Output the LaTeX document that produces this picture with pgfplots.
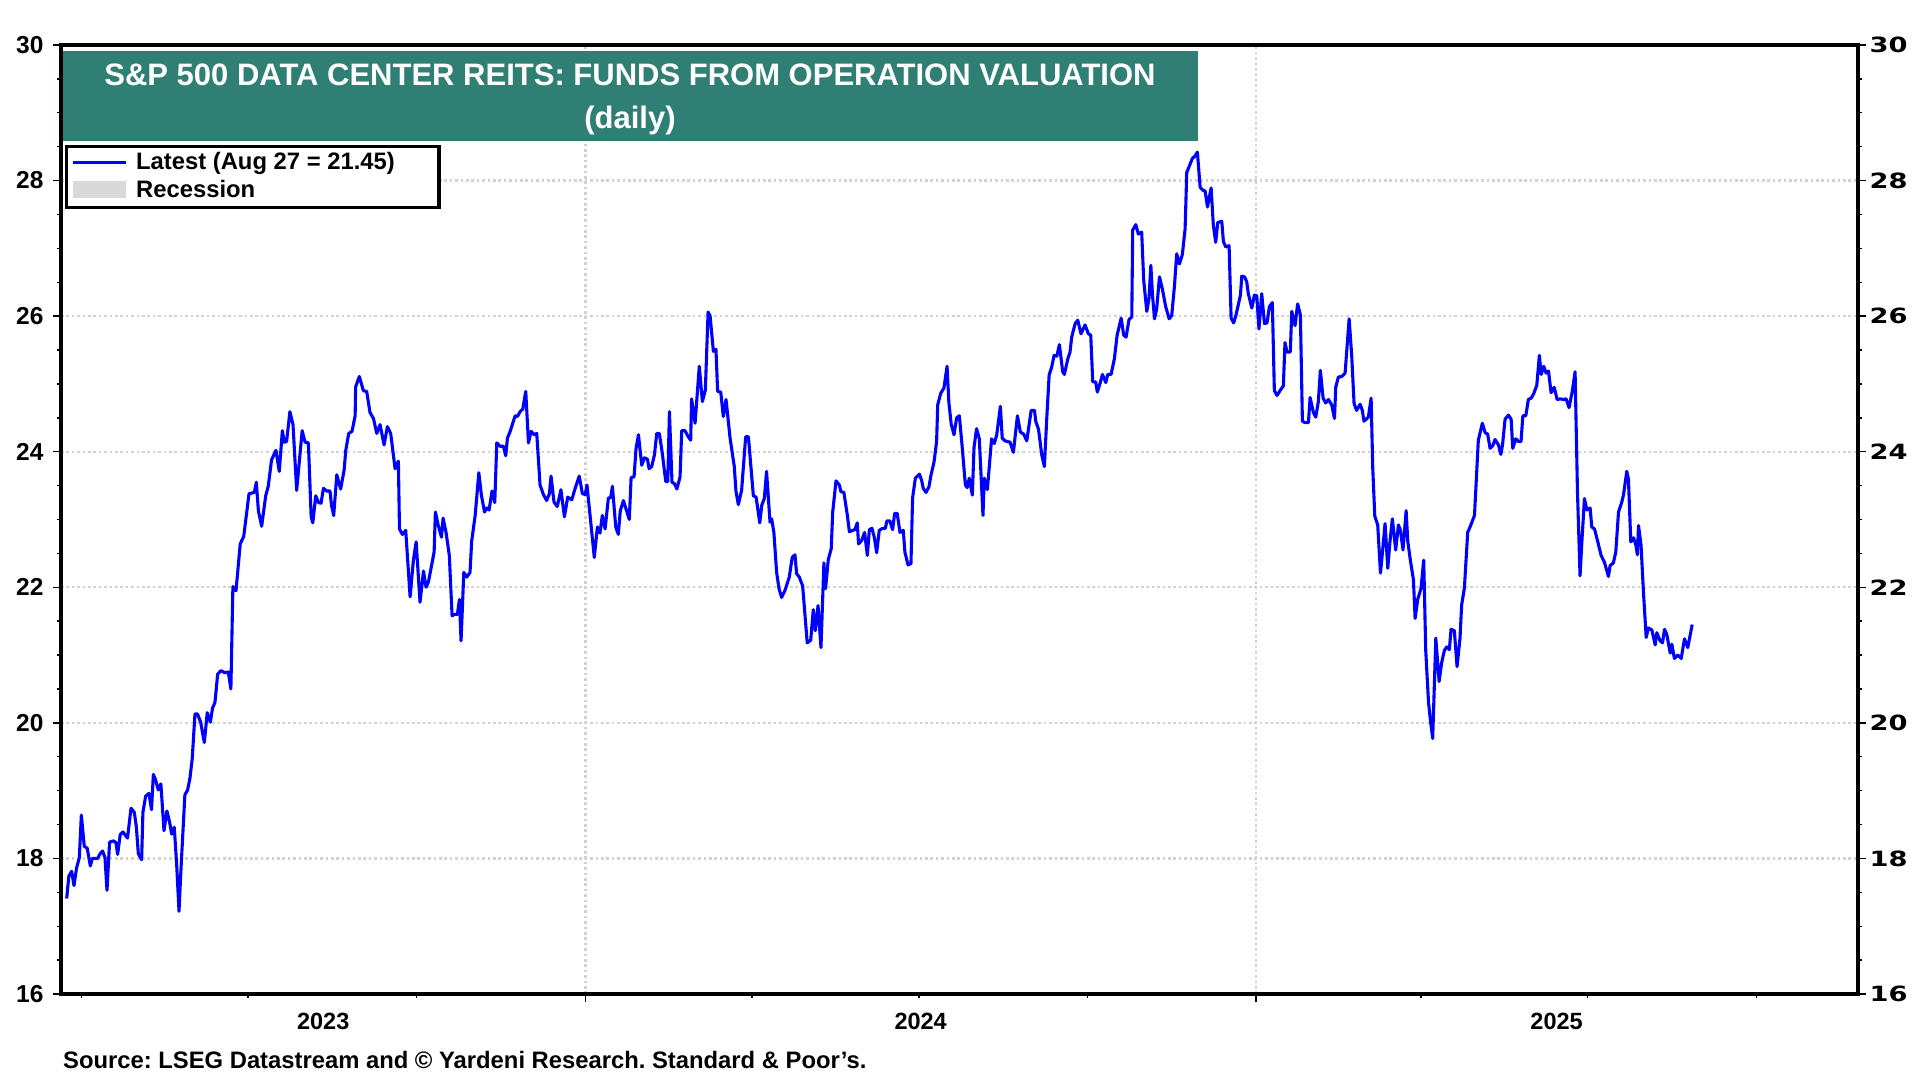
\documentclass[border=0pt]{standalone}
\usepackage{fontspec}
\setmainfont{Liberation Sans}
\newfontfamily\rfont{DejaVu Sans}[FakeStretch=1.3]
\usepackage{pgfplots}
\pgfplotsset{compat=1.18}
\definecolor{titleteal}{RGB}{47,127,116}
\definecolor{gridgray}{RGB}{210,210,210}
\definecolor{recgray}{RGB}{217,217,217}
\frenchspacing
\begin{document}
\begin{tikzpicture}
\useasboundingbox (0pt,0pt) rectangle (1920pt,1080pt);
\begin{axis}[
  at={(61pt,86pt)}, anchor=south west,
  scale only axis, width=1797pt, height=949pt,
  xmin=-286.1, xmax=694.5, ymin=16, ymax=30,
  axis line style={line width=4.3pt, black},
  tick align=outside,
  xtick pos=left,
  major tick length=8pt, minor tick length=4pt,
  tick style={line width=1.4pt, black},
  xtick={0,366}, xticklabels={,},
  minor xtick={-275,-184,-92,91,182,274,456,547,639},
  extra x ticks={-143,183,530},
  extra x tick labels={2023,2024,2025},
  extra x tick style={grid=none, major tick length=0pt},
  xticklabel style={font=\fontsize{23.5}{28}\selectfont\bfseries, yshift=-16pt},
  ytick={16,18,...,30},
  minor y tick num=3,
  yticklabel style={font=\fontsize{24.5}{29}\selectfont\bfseries, xshift=-6pt},
  /pgf/number format/assume math mode=true,
  xmajorgrids, ymajorgrids,
  grid style={gridgray, line width=2.4pt, dash pattern=on 2.6pt off 2.8pt},
]
\addplot[color={rgb,255:red,0;green,0;blue,255}, line width=3.1pt, line join=round] table {
x y
-283.0 17.41
-281.8 17.74
-280.3 17.81
-279.0 17.60
-277.6 17.86
-276.1 18.01
-275.0 18.64
-273.4 18.18
-271.8 18.15
-270.1 17.89
-269.0 18.00
-266.1 18.00
-264.8 18.07
-263.4 18.11
-262.1 18.01
-261.0 17.53
-259.6 18.24
-257.4 18.26
-256.1 18.23
-255.2 18.06
-253.8 18.35
-252.3 18.39
-249.8 18.30
-247.9 18.74
-246.1 18.68
-245.0 18.47
-243.9 18.07
-242.1 17.98
-241.4 18.68
-239.9 18.92
-238.1 18.96
-236.7 18.72
-235.7 19.24
-234.5 19.16
-233.0 19.01
-231.6 19.10
-229.9 18.41
-228.3 18.70
-226.8 18.53
-225.7 18.36
-224.3 18.46
-223.0 17.92
-221.7 17.22
-220.6 17.86
-218.5 18.94
-217.0 19.01
-215.7 19.19
-214.5 19.47
-213.0 20.13
-211.6 20.13
-209.9 20.01
-207.9 19.71
-206.3 20.15
-204.6 20.01
-203.4 20.22
-202.1 20.30
-200.6 20.72
-198.8 20.77
-196.6 20.74
-194.8 20.75
-193.4 20.50
-192.3 22.01
-190.6 21.95
-188.3 22.64
-186.4 22.75
-183.5 23.38
-180.6 23.40
-179.5 23.55
-178.4 23.13
-176.6 22.90
-174.4 23.35
-173.0 23.49
-171.2 23.88
-168.8 24.02
-167.0 23.71
-165.3 24.31
-164.3 24.14
-163.0 24.15
-161.2 24.59
-159.5 24.40
-157.5 23.43
-154.5 24.31
-152.9 24.14
-151.1 24.13
-149.6 23.04
-148.7 22.95
-147.1 23.35
-145.6 23.25
-144.2 23.24
-142.9 23.46
-141.1 23.42
-139.3 23.42
-138.5 23.21
-137.3 23.06
-135.6 23.66
-133.5 23.45
-131.6 23.73
-130.7 24.02
-129.1 24.27
-127.3 24.30
-125.6 24.53
-125.3 24.96
-123.3 25.11
-121.1 24.90
-119.3 24.89
-117.5 24.58
-115.6 24.49
-113.8 24.27
-112.0 24.40
-109.8 24.10
-108.0 24.37
-106.2 24.27
-103.8 23.75
-102.0 23.86
-101.4 22.86
-99.8 22.78
-98.0 22.84
-95.6 21.86
-93.8 22.40
-92.3 22.67
-90.2 21.78
-88.3 22.24
-86.9 22.00
-85.6 22.08
-82.5 22.52
-81.8 23.11
-80.3 22.92
-78.5 22.74
-77.6 23.02
-76.0 22.81
-74.2 22.47
-72.7 21.58
-71.3 21.60
-69.8 21.60
-68.7 21.82
-67.8 21.21
-66.3 22.22
-64.7 22.15
-62.9 22.22
-62.0 22.68
-60.1 23.06
-58.1 23.69
-56.7 23.36
-55.0 23.11
-53.8 23.17
-52.5 23.14
-50.9 23.42
-49.4 23.25
-48.3 24.13
-46.5 24.08
-44.7 24.08
-43.4 23.94
-42.5 24.20
-41.0 24.30
-38.3 24.53
-37.0 24.52
-35.6 24.59
-34.1 24.63
-32.5 24.89
-31.0 24.13
-29.6 24.30
-27.8 24.25
-26.5 24.27
-24.7 23.51
-22.9 23.37
-21.1 23.28
-19.6 23.38
-18.7 23.64
-17.1 23.26
-15.3 23.19
-13.3 23.44
-11.4 23.04
-9.6 23.33
-7.4 23.29
-5.3 23.48
-3.3 23.64
-1.6 23.38
0.0 23.37
0.9 23.51
2.6 23.06
4.9 22.44
6.6 22.89
8.0 22.80
9.3 23.06
10.8 22.86
12.6 23.32
13.8 23.32
14.8 23.49
16.6 22.89
18.0 22.78
19.1 23.13
20.8 23.28
24.0 23.00
25.0 23.62
26.6 23.63
27.7 24.05
29.0 24.25
30.8 23.80
32.2 23.91
33.9 23.89
34.8 23.75
36.2 23.78
37.7 23.95
39.0 24.27
40.4 24.27
42.0 23.98
43.9 23.56
45.0 23.56
45.9 24.59
47.3 23.55
48.6 23.53
50.0 23.45
51.7 23.63
52.6 24.31
54.4 24.31
56.2 24.22
57.5 24.17
58.0 24.78
59.9 24.42
62.2 25.26
63.9 24.74
65.5 24.91
67.0 26.06
68.1 26.00
69.9 25.48
71.3 25.51
72.2 24.89
73.9 24.88
75.3 24.52
76.8 24.77
79.0 24.20
81.3 23.78
82.2 23.42
83.5 23.22
85.3 23.43
87.5 24.22
89.0 24.22
91.7 23.35
93.2 23.33
95.2 22.95
96.3 23.21
97.7 23.31
98.9 23.71
100.8 22.96
101.7 23.01
102.9 22.81
104.4 22.22
105.7 21.98
107.1 21.85
108.9 21.95
111.3 22.15
112.9 22.44
114.4 22.48
115.3 22.20
116.8 22.15
118.6 22.02
119.7 21.65
121.1 21.18
123.0 21.22
124.4 21.67
125.5 21.36
127.0 21.73
128.6 21.11
130.2 22.36
131.1 21.98
132.6 22.41
134.2 22.57
135.0 23.11
136.8 23.57
138.6 23.51
139.5 23.41
141.1 23.40
143.0 23.06
144.1 22.82
145.9 22.84
147.1 22.85
148.4 22.95
149.1 22.64
150.8 22.69
152.4 22.81
153.9 22.47
155.0 22.85
156.4 22.87
157.7 22.74
159.0 22.51
160.4 22.84
162.2 22.87
163.7 22.87
164.6 22.98
166.2 22.98
167.7 22.85
168.8 23.09
170.2 23.09
171.7 22.81
173.5 22.84
174.4 22.52
176.1 22.33
177.7 22.35
178.6 23.32
180.1 23.61
182.3 23.67
183.5 23.58
184.4 23.46
185.9 23.40
187.5 23.48
188.6 23.65
190.3 23.85
191.7 24.15
192.3 24.69
193.9 24.86
195.7 24.94
197.4 25.26
198.4 24.72
199.7 24.40
201.2 24.25
202.6 24.50
204.1 24.53
205.4 24.15
207.4 23.51
208.4 23.47
209.5 23.61
211.2 23.36
212.1 24.06
213.5 24.34
215.0 24.19
217.0 23.06
217.7 23.61
219.4 23.44
221.7 24.19
223.2 24.12
224.5 24.25
226.5 24.67
227.5 24.20
229.0 24.16
231.8 24.14
233.6 23.99
235.8 24.53
237.4 24.29
239.2 24.26
240.9 24.16
243.3 24.61
245.1 24.61
245.8 24.45
247.3 24.33
249.1 23.95
250.5 23.78
251.8 24.49
253.1 25.13
254.5 25.25
255.8 25.42
257.3 25.41
258.7 25.58
260.5 25.18
261.4 25.14
263.3 25.37
264.5 25.47
265.4 25.69
267.3 25.89
268.7 25.94
270.5 25.74
272.7 25.87
274.5 25.74
275.8 25.72
276.9 25.03
278.5 25.03
279.4 24.88
280.9 25.01
282.2 25.14
284.0 25.02
285.1 25.14
286.9 25.14
288.7 25.37
290.2 25.72
292.4 25.97
293.8 25.72
295.1 25.69
296.7 25.95
298.2 25.99
298.7 27.27
300.4 27.35
301.8 27.21
303.6 27.24
304.7 26.53
306.4 26.07
307.6 26.26
308.6 26.75
309.5 26.31
310.6 25.96
311.8 26.11
313.3 26.58
314.9 26.40
316.7 26.14
318.6 25.96
320.0 26.01
321.5 26.45
322.7 26.92
324.2 26.77
325.8 26.91
327.3 27.29
328.2 28.12
329.7 28.22
331.3 28.33
332.7 28.36
334.0 28.42
335.5 27.90
337.3 27.85
338.2 27.85
339.5 27.61
340.4 27.74
341.5 27.89
342.7 27.34
344.0 27.09
345.1 27.38
347.3 27.40
348.2 27.10
349.5 27.02
351.3 27.04
352.4 25.97
353.8 25.90
355.1 26.02
357.5 26.31
358.2 26.59
359.7 26.58
360.9 26.51
361.8 26.33
363.7 26.12
365.1 26.31
366.4 26.30
367.6 25.81
369.1 26.33
370.6 25.89
372.0 25.90
373.3 26.14
374.9 26.20
376.0 24.90
377.5 24.83
379.3 24.91
380.9 24.97
381.8 25.61
382.9 25.47
384.7 25.47
385.5 26.07
387.3 25.86
388.7 26.18
390.2 26.02
391.3 24.45
392.7 24.43
394.6 24.43
395.5 24.80
397.3 24.58
398.6 24.51
400.0 24.74
401.1 25.20
402.6 24.79
404.0 24.72
405.5 24.77
407.3 24.69
408.8 24.49
409.5 24.95
410.9 25.10
412.8 25.11
414.6 25.16
416.8 25.96
418.2 25.42
419.5 24.71
420.9 24.61
422.8 24.70
424.0 24.61
424.9 24.45
427.3 24.51
428.8 24.79
429.7 23.75
430.8 23.05
432.4 22.92
433.9 22.21
435.1 22.55
436.4 22.94
437.9 22.28
439.1 22.68
440.4 23.01
442.2 22.55
443.7 22.92
444.8 22.84
446.2 22.55
447.9 23.13
448.8 22.68
450.2 22.40
451.9 22.11
452.8 21.54
454.2 21.82
456.0 21.98
457.5 22.40
458.6 21.07
460.1 20.31
461.1 20.05
462.4 19.77
464.1 21.25
465.9 20.61
467.3 20.89
468.8 21.07
470.1 21.12
471.5 21.08
472.4 21.38
474.2 21.36
475.7 20.83
477.3 21.25
478.2 21.74
479.7 21.99
481.5 22.81
482.8 22.89
485.2 23.06
487.3 24.17
489.5 24.42
491.0 24.28
492.4 24.26
493.7 24.05
495.2 24.09
496.4 24.18
498.3 24.10
499.6 23.96
500.5 24.10
501.9 24.48
503.7 24.54
505.2 24.48
506.1 24.05
507.7 24.19
509.2 24.15
510.6 24.15
511.6 24.53
513.2 24.53
514.6 24.77
516.1 24.79
517.6 24.86
519.2 24.98
520.6 25.42
521.6 25.14
523.0 25.26
524.3 25.16
525.6 25.19
527.0 24.87
528.7 24.95
530.3 24.77
532.1 24.78
533.7 24.77
535.2 24.78
536.8 24.65
538.7 24.91
540.1 25.18
541.4 23.41
542.8 22.17
543.8 22.67
545.2 23.31
546.5 23.14
548.3 23.17
549.2 22.89
550.7 22.86
552.5 22.67
554.3 22.47
556.1 22.37
558.3 22.16
559.2 22.32
561.0 22.36
562.3 22.52
563.8 23.11
565.6 23.26
566.5 23.36
568.3 23.71
569.2 23.60
570.5 22.67
572.0 22.73
573.2 22.63
574.1 22.48
574.7 22.91
576.1 22.62
577.4 21.93
578.9 21.26
580.1 21.40
582.0 21.37
583.8 21.15
584.7 21.33
586.5 21.21
587.8 21.18
588.9 21.38
590.1 21.31
592.0 21.03
592.9 21.16
594.3 20.95
596.1 21.00
598.0 20.95
599.8 21.24
601.6 21.11
604.0 21.45
};
\end{axis}
\begin{axis}[
  at={(61pt,86pt)}, anchor=south west,
  scale only axis, width=1797pt, height=949pt,
  xmin=-286.1, xmax=694.5, ymin=16, ymax=30,
  axis x line=none,
  axis y line*=right,
  axis line style={draw=none},
  tick align=outside, major tick length=8pt,
  ytick={16,18,...,30},
  ytick style={draw=none},
  yticklabel style={font=\rfont\fontsize{21}{25}\selectfont\bfseries},
  /pgf/number format/assume math mode=true,
]
\end{axis}
\fill[titleteal] (62.5pt,939pt) rectangle (1198pt,1029.3pt);
\node[anchor=base, text=white, inner sep=0pt, font=\fontsize{31}{37}\selectfont\bfseries] at (630pt,994pt) {S\&P 500 DATA CENTER REITS: FUNDS FROM OPERATION VALUATION};
\node[anchor=base, text=white, inner sep=0pt, font=\fontsize{31}{37}\selectfont\bfseries] at (630pt,951pt) {(daily)};
\draw[line width=3.3pt, fill=white] (66.4pt,872.4pt) rectangle (438.9pt,933.3pt);
\draw[color={rgb,255:red,0;green,0;blue,255}, line width=3pt] (72.8pt,917.7pt) -- (126.3pt,917.7pt);
\fill[recgray] (72.8pt,881.7pt) rectangle (126.3pt,899.3pt);
\node[anchor=base west, inner sep=0pt, font=\fontsize{23.8}{28}\selectfont\bfseries] at (136pt,910pt) {Latest (Aug 27 = 21.45)};
\node[anchor=base west, inner sep=0pt, font=\fontsize{23.8}{28}\selectfont\bfseries] at (136pt,882pt) {Recession};
\node[anchor=base west, inner sep=0pt, font=\fontsize{23.8}{28}\selectfont\bfseries] at (63pt,11.5pt) {Source: LSEG Datastream and © Yardeni Research. Standard \& Poor's.};
\end{tikzpicture}
\end{document}
